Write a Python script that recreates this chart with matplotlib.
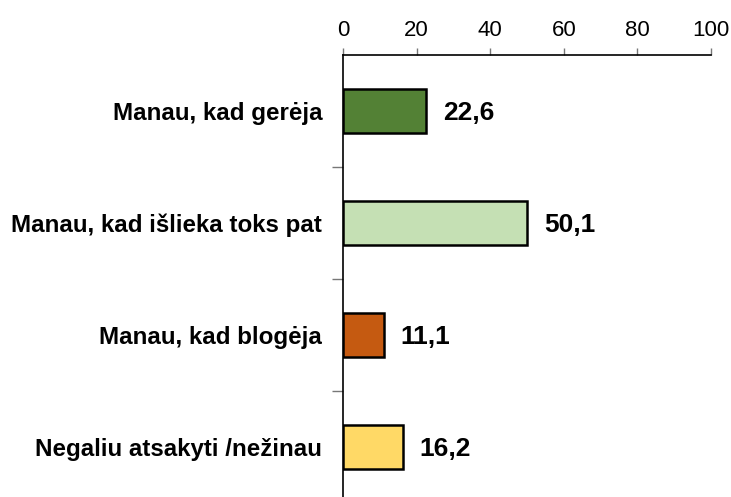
import matplotlib
matplotlib.use("Agg")
import matplotlib.pyplot as plt
import numpy as np

plt.rcParams['font.family'] = ['Liberation Sans', 'DejaVu Sans']

# answers, top to bottom
categories = [
    "Manau, kad gerėja",
    "Manau, kad išlieka toks pat",
    "Manau, kad blogėja",
    "Negaliu atsakyti /nežinau",
]
values = [22.6, 50.1, 11.1, 16.2]
colors = ["#538135", "#C5E0B4", "#C55A11", "#FFD966"]
x_ticks = [0, 20, 40, 60, 80, 100]

fig = plt.figure(figsize=(7.31, 4.97), dpi=100)
# axes runs slightly past the bottom edge of the figure
ax = fig.add_axes([343 / 731, -6 / 497, 368 / 731, 448 / 497])

pos = np.arange(len(categories)) + 0.5
ax.barh(pos, values, height=0.4, color=colors, edgecolor="black", linewidth=1.8)

for y, v in zip(pos, values):
    ax.text(v + 4.5, y + 0.02, f"{v:.1f}".replace(".", ","), va="center", ha="left",
            fontsize=19, fontweight="bold")

ax.set_xlim(0, 100)
ax.set_ylim(len(categories), 0)

ax.xaxis.tick_top()
ax.set_xticks(x_ticks)
ax.set_xticklabels([str(t) for t in x_ticks], fontsize=16)
ax.tick_params(axis="x", direction="out", length=5, width=1, color="#777777", pad=5)

# category labels sit between the separator ticks
ax.set_yticks(np.arange(1, len(categories)))
ax.set_yticklabels([])
ax.set_yticks(pos, minor=True)
ax.set_yticklabels(categories, minor=True, fontsize=17.4, fontweight="bold")
ax.tick_params(axis="y", which="major", direction="out", length=8, width=1, color="#777777")
ax.tick_params(axis="y", which="minor", length=0, pad=15)

for side in ["right", "bottom"]:
    ax.spines[side].set_visible(False)
ax.spines["top"].set_linewidth(1.2)
ax.spines["left"].set_linewidth(1.2)

fig.savefig("out.png", dpi=100)
